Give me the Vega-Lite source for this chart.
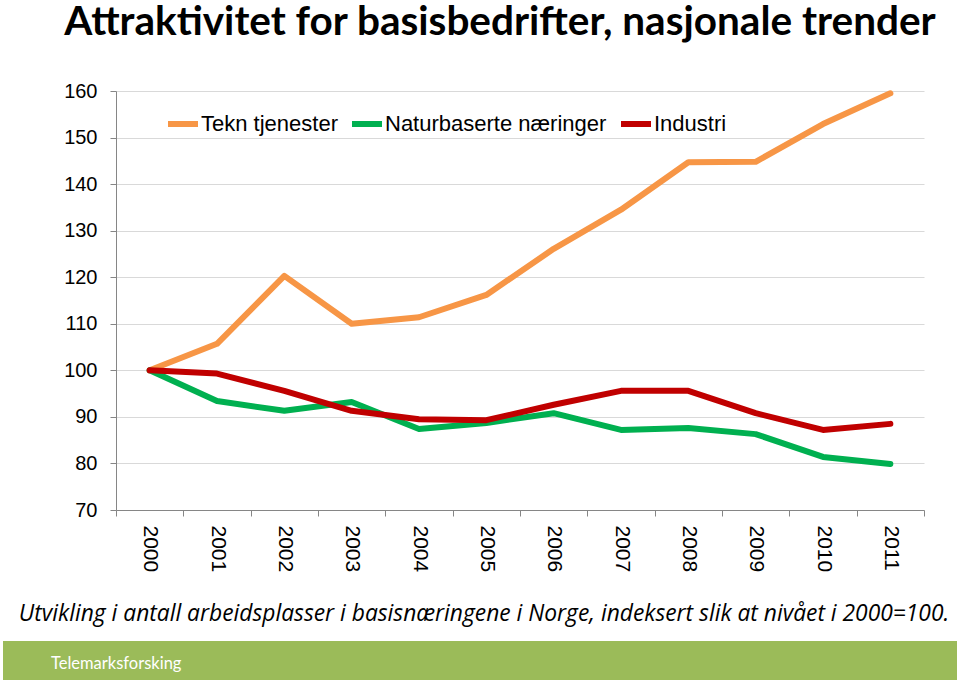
{
  "$schema": "https://vega.github.io/schema/vega-lite/v6.json",
  "background": "white",
  "padding": {"left": 3, "top": 3, "right": 3, "bottom": 3},
  "title": {
    "text": "Attraktivitet for basisbedrifter, nasjonale trender",
    "font": "Lato",
    "fontSize": 40.5,
    "fontWeight": "bold",
    "color": "black",
    "anchor": "middle",
    "dx": 20,
    "offset": 37.5
  },
  "spacing": 15,
  "vconcat": [
    {
      "spacing": 10,
      "hconcat": [
        {
          "width": 5,
          "height": 10,
          "data": {"values": []},
          "mark": "rect",
          "encoding": {}
        },
        {
          "width": 808,
          "height": 419,
          "data": {
            "values": [
              {"year": "2000", "series": "Tekn tjenester", "value": 100},
              {"year": "2001", "series": "Tekn tjenester", "value": 105.7},
              {"year": "2002", "series": "Tekn tjenester", "value": 120.3},
              {"year": "2003", "series": "Tekn tjenester", "value": 110.0},
              {"year": "2004", "series": "Tekn tjenester", "value": 111.4},
              {"year": "2005", "series": "Tekn tjenester", "value": 116.2},
              {"year": "2006", "series": "Tekn tjenester", "value": 126.1},
              {"year": "2007", "series": "Tekn tjenester", "value": 134.5},
              {"year": "2008", "series": "Tekn tjenester", "value": 144.7},
              {"year": "2009", "series": "Tekn tjenester", "value": 144.8},
              {"year": "2010", "series": "Tekn tjenester", "value": 152.9},
              {"year": "2011", "series": "Tekn tjenester", "value": 159.5},
              {"year": "2000", "series": "Naturbaserte næringer", "value": 100},
              {"year": "2001", "series": "Naturbaserte næringer", "value": 93.4},
              {"year": "2002", "series": "Naturbaserte næringer", "value": 91.3},
              {"year": "2003", "series": "Naturbaserte næringer", "value": 93.2},
              {"year": "2004", "series": "Naturbaserte næringer", "value": 87.4},
              {"year": "2005", "series": "Naturbaserte næringer", "value": 88.7},
              {"year": "2006", "series": "Naturbaserte næringer", "value": 90.8},
              {"year": "2007", "series": "Naturbaserte næringer", "value": 87.2},
              {"year": "2008", "series": "Naturbaserte næringer", "value": 87.6},
              {"year": "2009", "series": "Naturbaserte næringer", "value": 86.3},
              {"year": "2010", "series": "Naturbaserte næringer", "value": 81.4},
              {"year": "2011", "series": "Naturbaserte næringer", "value": 79.9},
              {"year": "2000", "series": "Industri", "value": 100},
              {"year": "2001", "series": "Industri", "value": 99.3},
              {"year": "2002", "series": "Industri", "value": 95.6},
              {"year": "2003", "series": "Industri", "value": 91.3},
              {"year": "2004", "series": "Industri", "value": 89.5},
              {"year": "2005", "series": "Industri", "value": 89.3},
              {"year": "2006", "series": "Industri", "value": 92.6},
              {"year": "2007", "series": "Industri", "value": 95.6},
              {"year": "2008", "series": "Industri", "value": 95.6},
              {"year": "2009", "series": "Industri", "value": 90.8},
              {"year": "2010", "series": "Industri", "value": 87.2},
              {"year": "2011", "series": "Industri", "value": 88.5}
            ]
          },
          "mark": {"type": "line", "strokeWidth": 6, "strokeCap": "round", "strokeJoin": "round"},
          "encoding": {
            "x": {
              "field": "year",
              "type": "ordinal",
              "scale": {"type": "band", "paddingInner": 0, "paddingOuter": 0},
              "axis": {
                "title": "Utvikling i antall arbeidsplasser i basisnæringene i Norge, indeksert slik at nivået i 2000=100.",
                "titleFont": "Open Sans",
                "titleFontStyle": "italic",
                "titleFontWeight": "normal",
                "titleFontSize": 22.8,
                "titleColor": "black",
                "titleX": 367.5,
                "titleAlign": "center",
                "titlePadding": 31,
                "titleLimit": 1000,
                "labelAngle": 90,
                "labelFont": "Liberation Sans",
                "labelFontSize": 21,
                "labelColor": "black",
                "labelPadding": 9,
                "tickBand": "extent",
                "tickSize": 6,
                "tickColor": "#868686",
                "domainColor": "#868686",
                "grid": false
              }
            },
            "y": {
              "field": "value",
              "type": "quantitative",
              "scale": {"domain": [70, 160], "nice": false, "zero": false},
              "axis": {
                "title": null,
                "values": [70, 80, 90, 100, 110, 120, 130, 140, 150, 160],
                "labelFont": "Liberation Sans",
                "labelFontSize": 20,
                "labelColor": "black",
                "labelPadding": 13,
                "tickSize": 6,
                "tickColor": "#868686",
                "domainColor": "#868686",
                "gridColor": "#D9D9D9",
                "grid": true
              }
            },
            "color": {
              "field": "series",
              "type": "nominal",
              "scale": {
                "domain": ["Tekn tjenester", "Naturbaserte næringer", "Industri"],
                "range": ["#F79646", "#00B050", "#C00000"]
              },
              "legend": {
                "orient": "none",
                "legendX": 162,
                "legendY": 15,
                "direction": "horizontal",
                "title": null,
                "symbolType": "stroke",
                "symbolStrokeWidth": 6,
                "symbolSize": 900,
                "labelFont": "Liberation Sans",
                "labelFontSize": 22,
                "labelColor": "black",
                "labelOffset": 0,
                "labelLimit": 400,
                "columnPadding": 2,
                "padding": 0
              }
            }
          }
        }
      ]
    },
    {
      "width": 954,
      "height": 39,
      "view": {"fill": "#9BBB59", "stroke": null},
      "title": {
        "text": "Telemarksforsking",
        "anchor": "start",
        "orient": "top",
        "offset": -31,
        "dx": 48,
        "color": "white",
        "font": "Lato",
        "fontSize": 16.5,
        "fontWeight": "normal"
      },
      "data": {"values": [{"org": "Telemarksforsking"}]},
      "mark": {"type": "rect", "color": "#9BBB59"},
      "encoding": {}
    }
  ],
  "config": {
    "view": {"stroke": null}
  }
}
